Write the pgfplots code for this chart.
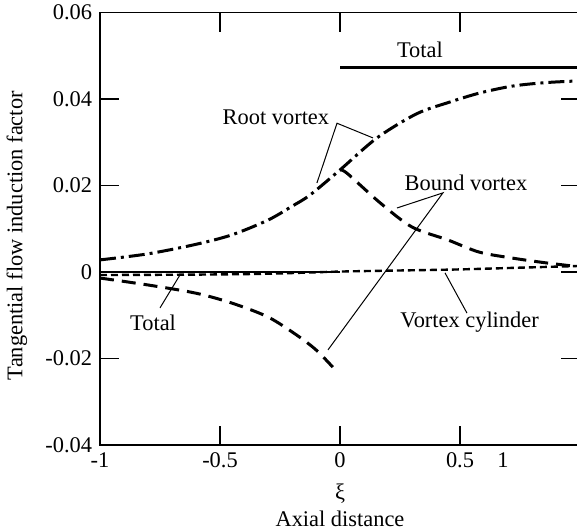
\documentclass[border=0pt]{standalone}
\usepackage{pgfplots}
\pgfplotsset{compat=1.18}
\usepackage{fontspec}
\setmainfont{Liberation Serif}
\begin{document}
\fontsize{11.2}{13.4}\selectfont
\begin{tikzpicture}
\useasboundingbox (-50pt,-42.5pt) rectangle (238.5pt,222.5pt);
\begin{axis}[
  at={(0,0)}, anchor=south west,
  scale only axis, width=240pt, height=216.25pt,
  xmin=-1, xmax=1, ymin=-0.04, ymax=0.06,
  axis line style={line width=0.8pt},
  tick align=inside, major tick length=9.5pt,
  tick style={line width=0.6pt, black},
  scaled x ticks=false, scaled y ticks=false,
  xtick={-1,-0.5,0,0.5}, xticklabels={-1,-0.5,0,0.5},
  extra x ticks={0.679}, extra x tick labels={1},
  extra x tick style={major tick length=0pt},
  ytick={-0.04,-0.02,0,0.02,0.04,0.06},
  yticklabels={-0.04,-0.02,0,0.02,0.04,0.06},
  xlabel={ξ\\Axial distance},
  xlabel style={align=center, at={(axis description cs:0.5,-0.139)}, anchor=center},
  ylabel={Tangential flow induction factor},
  ylabel style={at={(axis description cs:-0.173,0.484)}, anchor=center},
  clip=false,
]
% Total
\addplot[black, line width=1.4pt] coordinates {(-1,0) (0,0)};
\addplot[black, line width=1.4pt] coordinates {(0,0.0472) (1,0.0472)};
% Root vortex
\addplot[black, line width=1.5pt, smooth, dash pattern=on 8pt off 2.5pt on 1.5pt off 2.5pt] coordinates {
(-1,0.0028) (-0.8,0.0042) (-0.6,0.0064) (-0.45,0.0086) (-0.3,0.012) (-0.2,0.0152) (-0.125,0.0178) (0,0.0236)
(0.154,0.031) (0.32,0.0366) (0.458,0.0393) (0.583,0.0414) (0.72,0.043) (0.86,0.0438) (1,0.0442)};
% Bound vortex
\addplot[black, line width=1.5pt, smooth, dash pattern=on 7pt off 4pt] coordinates {
(-1,-0.0014) (-0.8,-0.003) (-0.6,-0.0049) (-0.45,-0.0072) (-0.3,-0.0104) (-0.18,-0.0146) (-0.1,-0.018) (-0.03,-0.022)};
\addplot[black, line width=1.5pt, smooth, dash pattern=on 7pt off 4pt] coordinates {
(0,0.0236) (0.03,0.0228) (0.167,0.016) (0.3,0.0104) (0.45,0.0074) (0.58,0.0046) (0.72,0.0032) (0.86,0.0021) (1,0.0012)};
% Vortex cylinder
\addplot[black, line width=1.2pt, smooth, dash pattern=on 3.5pt off 2pt] coordinates {
(-1,-0.0007) (-0.6,-0.0006) (-0.3,-0.0004) (0,0.0001) (0.3,0.0004) (0.5,0.0006) (0.75,0.001) (1,0.0014)};
% annotations
\node at (axis cs:0.333,0.0513) {Total};
\node at (axis cs:-0.267,0.0358) {Root vortex};
\draw[line width=0.5pt] (axis cs:0.1375,0.031) -- (axis cs:-0.0125,0.0344) -- (axis cs:-0.096,0.0206);
\node at (axis cs:0.525,0.0206) {Bound vortex};
\draw[line width=0.5pt] (axis cs:0.2375,0.0148) -- (axis cs:0.429,0.0183) -- (axis cs:-0.05,-0.018);
\node at (axis cs:0.54,-0.0116) {Vortex cylinder};
\draw[line width=0.5pt] (axis cs:0.529,-0.0095) -- (axis cs:0.4375,-0.0002);
\node at (axis cs:-0.779,-0.0118) {Total};
\draw[line width=0.5pt] (axis cs:-0.75,-0.0083) -- (axis cs:-0.667,-0.0007);
\end{axis}
\end{tikzpicture}
\end{document}
